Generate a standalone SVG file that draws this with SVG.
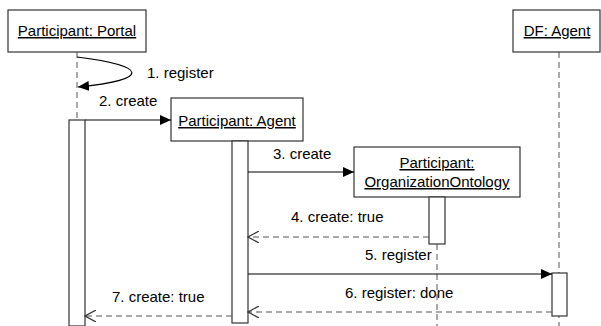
<svg xmlns="http://www.w3.org/2000/svg" width="601" height="326" viewBox="0 0 601 326">
<style>
text{font-family:"Liberation Sans",Arial,sans-serif;font-size:15px;fill:#000}
.name{text-decoration:underline;text-anchor:middle}
.box{fill:#fff;stroke:#333;stroke-width:1.2}
.act{fill:#fff;stroke:#333;stroke-width:1.2}
.life{stroke:#555;stroke-width:1;stroke-dasharray:6,4;fill:none}
.msg{stroke:#000;stroke-width:1.2;fill:none}
.ret{stroke:#555;stroke-width:1.2;fill:none;stroke-dasharray:6,4}
</style>
<defs>
<marker id="filled" markerWidth="12" markerHeight="10" refX="11" refY="5" orient="auto" markerUnits="userSpaceOnUse">
<path d="M0,0 L11,5 L0,10 Z" fill="#000"/>
</marker>
<marker id="open" markerWidth="12" markerHeight="12" refX="11" refY="6" orient="auto" markerUnits="userSpaceOnUse">
<path d="M0,0 L11,6 L0,12" fill="none" stroke="#333" stroke-width="1.2"/>
</marker>
</defs>
<g id="lifelines">
<line class="life" x1="77" y1="52" x2="77" y2="120"/>
<line class="life" x1="437" y1="244" x2="437" y2="326"/>
<line class="life" x1="559" y1="52" x2="559" y2="326" stroke="#777"/>
</g>
<g id="portal">
<rect class="box" x="8" y="10" width="138" height="42"/>
<text class="name" x="77" y="36">Participant: Portal</text>
<rect class="act" x="69" y="120" width="16" height="206"/>
</g>
<g id="agent">
<rect class="box" x="171" y="98" width="132" height="43"/>
<text class="name" x="237" y="126">Participant: Agent</text>
<rect class="act" x="232" y="141" width="16" height="182"/>
</g>
<g id="ontology">
<rect class="box" x="354" y="147" width="166" height="50"/>
<text class="name" x="437" y="168">Participant:</text>
<text class="name" x="437" y="187">OrganizationOntology</text>
<rect class="act" x="429" y="197" width="16" height="47"/>
</g>
<g id="df">
<rect class="box" x="513" y="10" width="87" height="42"/>
<text class="name" x="557" y="36">DF: Agent</text>
<rect class="act" x="552" y="273" width="15" height="43"/>
</g>
<g id="connectors">
<path class="msg" d="M77,57 C150,66 150,80 78,87" marker-end="url(#filled)"/>
<text x="147" y="78">1. register</text>
<line class="msg" x1="85" y1="120" x2="171" y2="120" marker-end="url(#filled)"/>
<text x="99" y="106">2. create</text>
<line class="msg" x1="248" y1="172" x2="354" y2="172" marker-end="url(#filled)"/>
<text x="273" y="159">3. create</text>
<line class="ret" x1="429" y1="237" x2="248" y2="237" marker-end="url(#open)"/>
<text x="291" y="222">4. create: true</text>
<line class="msg" x1="248" y1="274" x2="552" y2="274" marker-end="url(#filled)"/>
<text x="365" y="260">5. register</text>
<line class="ret" x1="552" y1="312" x2="248" y2="312" marker-end="url(#open)"/>
<text x="345" y="298">6. register: done</text>
<line class="ret" x1="232" y1="316" x2="85" y2="316" marker-end="url(#open)"/>
<text x="112" y="302">7. create: true</text>
</g>
</svg>
